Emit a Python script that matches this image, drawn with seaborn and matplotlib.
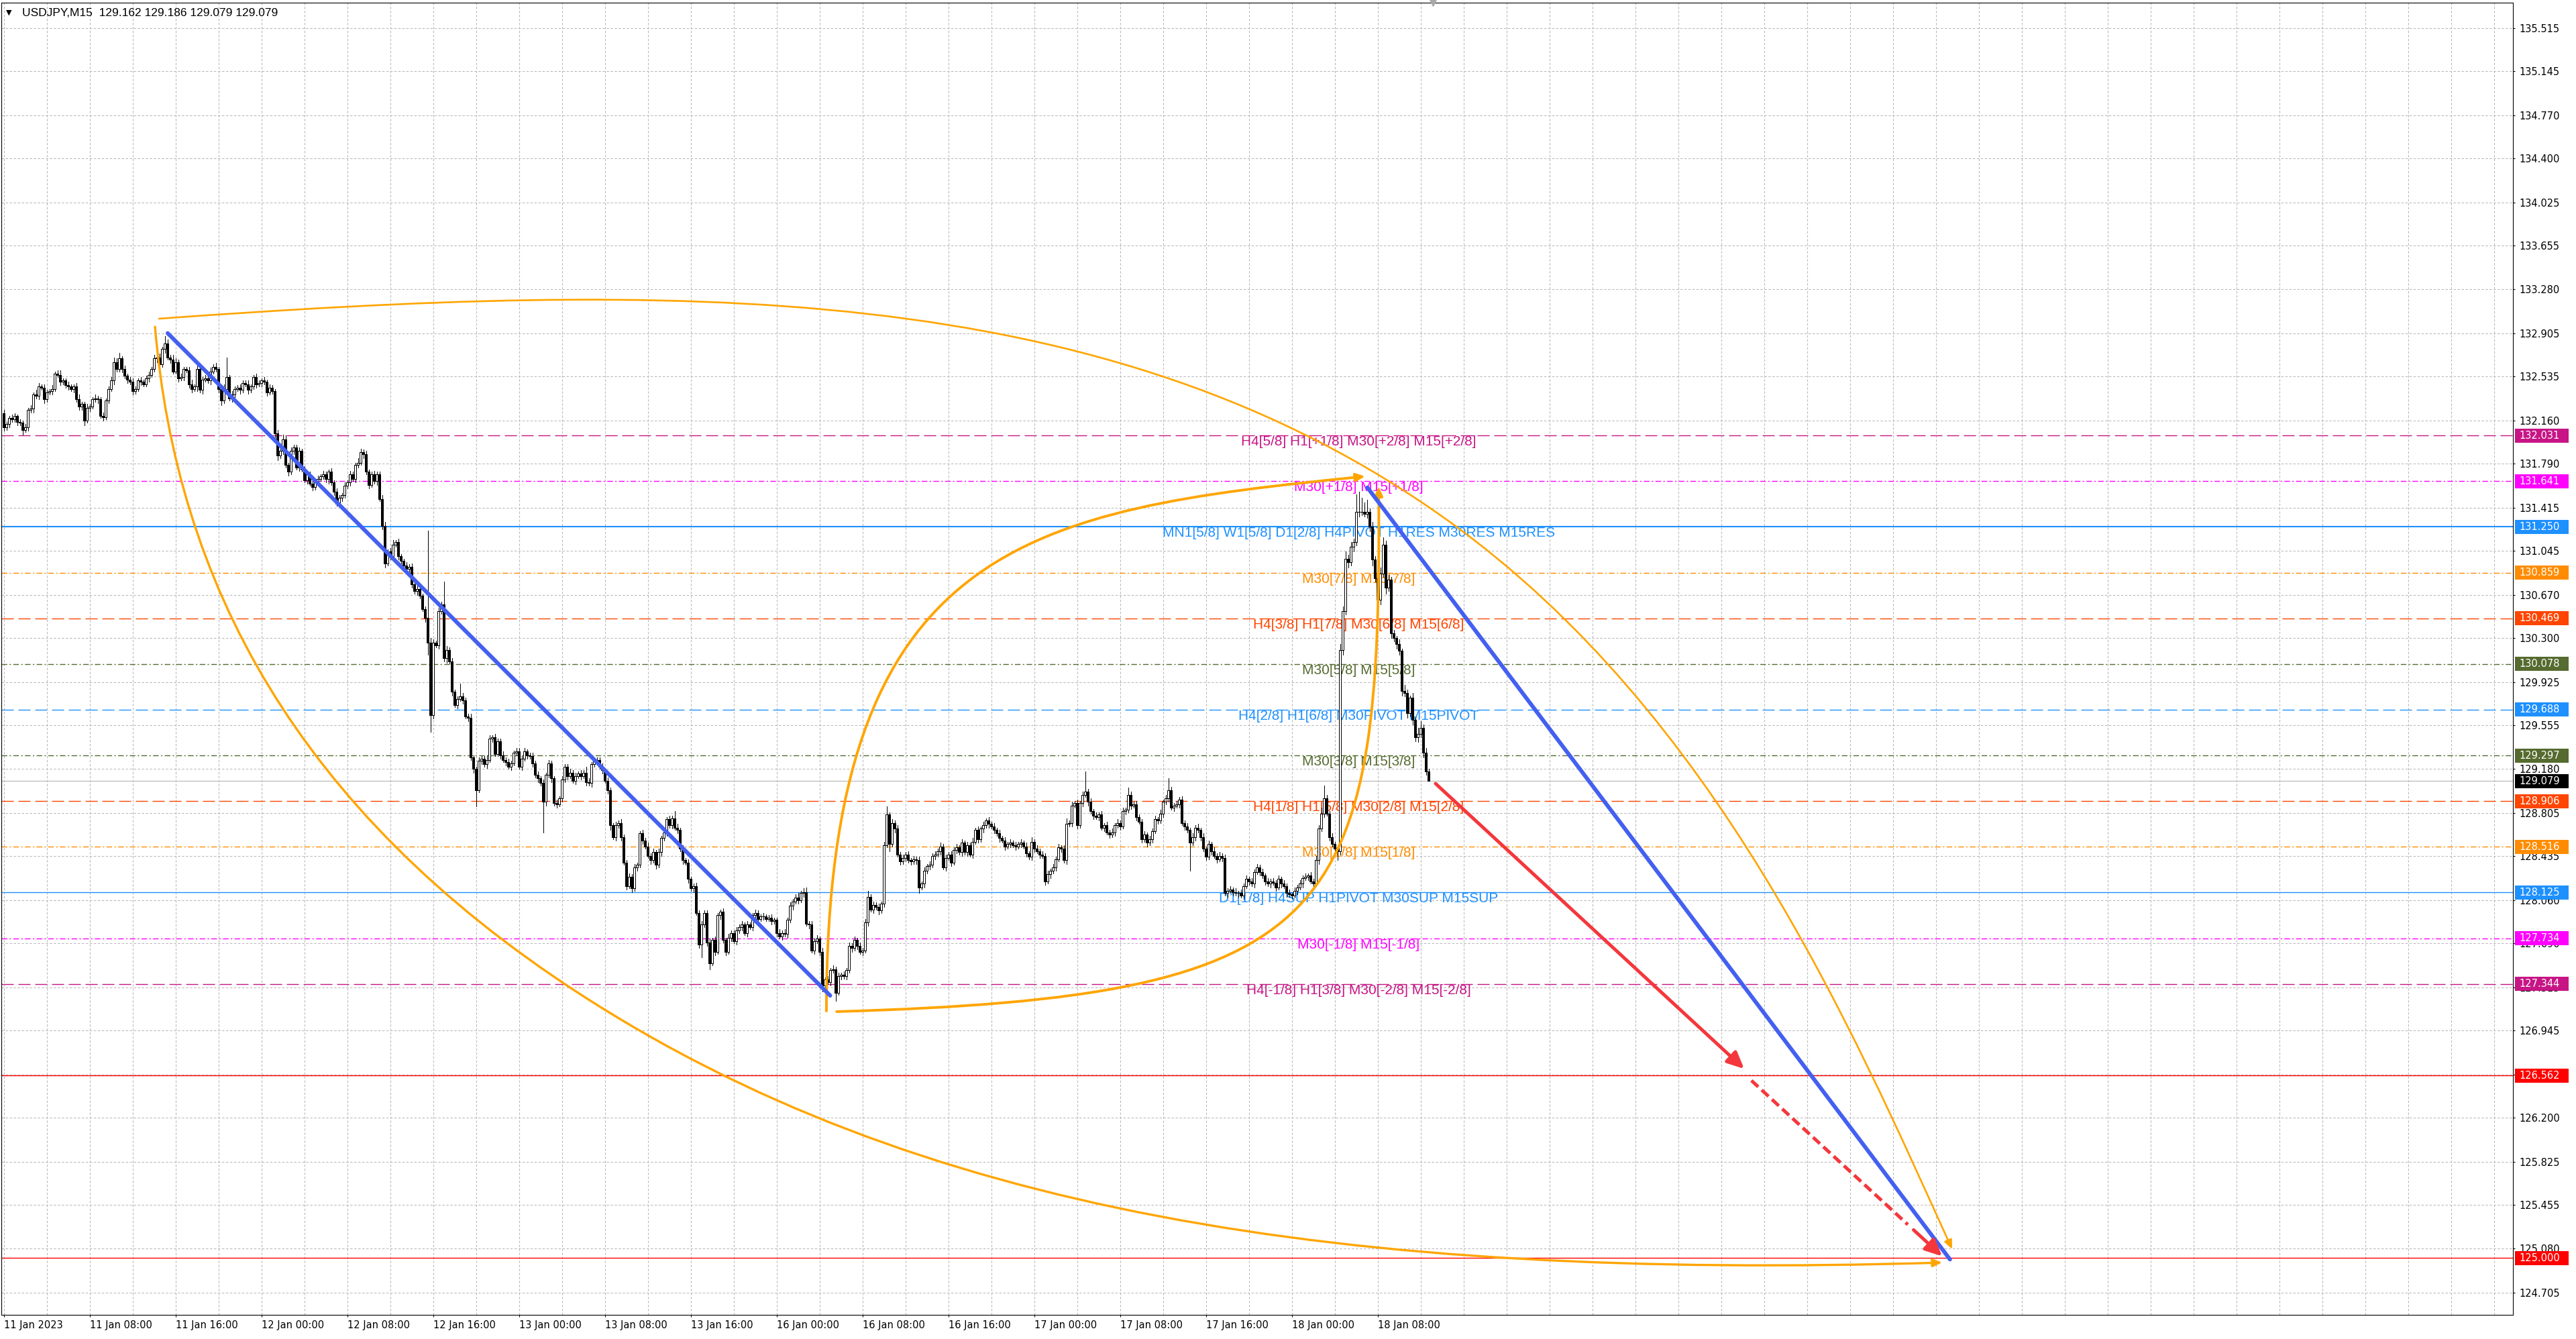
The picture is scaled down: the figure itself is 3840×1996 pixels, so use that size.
import matplotlib
matplotlib.use('Agg')
import matplotlib.pyplot as plt
from matplotlib.patches import Rectangle, FancyArrowPatch
from matplotlib.path import Path
import seaborn as sns
import numpy as np

# ---------------- data ----------------
header = "USDJPY,M15  129.162 129.186 129.079 129.079"
first_open = 132.22

close_11jan = [132.10, 132.13, 132.18, 132.17, 132.20, 132.15, 132.14, 132.08, 132.10, 132.25,
               132.26, 132.38, 132.37, 132.45, 132.44, 132.34, 132.40, 132.41, 132.43, 132.56,
               132.55, 132.49, 132.50, 132.46, 132.45, 132.43, 132.45, 132.34, 132.28, 132.30,
               132.16, 132.27, 132.28, 132.34, 132.35, 132.34, 132.20, 132.19, 132.33, 132.43,
               132.50, 132.66, 132.60, 132.69, 132.60, 132.54, 132.51, 132.49, 132.41, 132.43,
               132.50, 132.49, 132.47, 132.52, 132.55, 132.60, 132.69, 132.70, 132.64, 132.77,
               132.82, 132.70, 132.68, 132.58, 132.66, 132.52, 132.53, 132.60, 132.59, 132.47,
               132.43, 132.45, 132.60, 132.42, 132.51, 132.52, 132.50, 132.58, 132.62, 132.60,
               132.43, 132.33, 132.43, 132.53, 132.35, 132.38, 132.43, 132.44, 132.42, 132.48,
               132.47, 132.42, 132.45, 132.53, 132.47, 132.48]
close_12jan = [132.50, 132.49, 132.40, 132.44, 132.41, 132.05, 131.86, 131.90, 132.00, 131.78,
               131.72, 131.90, 131.93, 131.76, 131.90, 131.74, 131.65, 131.70, 131.62, 131.59,
               131.63, 131.66, 131.68, 131.70, 131.66, 131.72, 131.63, 131.55, 131.45, 131.50,
               131.52, 131.60, 131.63, 131.70, 131.66, 131.78, 131.80, 131.89, 131.87, 131.72,
               131.61, 131.70, 131.64, 131.70, 131.49, 131.26, 130.94, 131.04, 131.00, 131.10,
               131.12, 131.00, 130.96, 130.92, 130.89, 130.91, 130.76, 130.70, 130.72, 130.66,
               130.55, 130.47, 130.26, 129.64, 130.26, 130.24, 130.53, 130.59, 130.13, 130.20,
               130.10, 129.84, 129.73, 129.78, 129.80, 129.77, 129.63, 129.62, 129.28, 129.18,
               129.00, 129.25, 129.27, 129.22, 129.26, 129.44, 129.45, 129.31, 129.42, 129.30,
               129.26, 129.24, 129.20, 129.23, 129.32, 129.33]
close_13jan = [129.20, 129.27, 129.33, 129.30, 129.29, 129.23, 129.13, 129.10, 129.06, 128.90,
               129.13, 129.23, 129.10, 128.89, 128.88, 128.93, 129.09, 129.20, 129.12, 129.15,
               129.08, 129.12, 129.14, 129.12, 129.15, 129.07, 129.06, 129.22, 129.25, 129.26,
               129.20, 129.17, 129.08, 129.00, 128.70, 128.60, 128.70, 128.72, 128.60, 128.38,
               128.18, 128.26, 128.16, 128.34, 128.36, 128.63, 128.57, 128.52, 128.44, 128.40,
               128.47, 128.36, 128.47, 128.59, 128.64, 128.75, 128.70, 128.76, 128.68, 128.66,
               128.50, 128.40, 128.38, 128.24, 128.16, 128.18, 127.95, 127.68, 127.85, 127.95,
               127.70, 127.52, 127.72, 127.62, 127.93, 127.96, 127.72, 127.62, 127.74, 127.78,
               127.71, 127.80, 127.83, 127.85, 127.78, 127.85, 127.83, 127.93, 127.95, 127.90,
               127.92, 127.92, 127.90, 127.91, 127.88, 127.89]
close_16jan = [127.78, 127.75, 127.78, 127.77, 127.89, 128.01, 128.05, 128.08, 128.06, 128.12,
               128.13, 127.86, 127.85, 127.63, 127.71, 127.73, 127.62, 127.33, 127.38, 127.36,
               127.46, 127.47, 127.27, 127.41, 127.42, 127.41, 127.46, 127.67, 127.65, 127.72,
               127.67, 127.62, 127.63, 127.87, 128.09, 127.98, 128.02, 128.00, 127.97, 128.03,
               128.53, 128.79, 128.54, 128.72, 128.67, 128.45, 128.39, 128.42, 128.45, 128.40,
               128.39, 128.41, 128.40, 128.17, 128.20, 128.31, 128.35, 128.36, 128.44, 128.45,
               128.48, 128.52, 128.34, 128.42, 128.45, 128.38, 128.49, 128.51, 128.47, 128.55,
               128.47, 128.53, 128.45, 128.56, 128.66, 128.58, 128.67, 128.70, 128.74, 128.71,
               128.69, 128.66, 128.63, 128.59, 128.57, 128.52, 128.54, 128.55, 128.53, 128.52,
               128.54, 128.55, 128.52, 128.46, 128.43, 128.56]
close_17jan = [128.50, 128.48, 128.45, 128.44, 128.22, 128.28, 128.31, 128.34, 128.41, 128.51,
               128.50, 128.40, 128.71, 128.72, 128.87, 128.89, 128.70, 128.89, 128.96, 128.99,
               128.90, 128.82, 128.78, 128.77, 128.79, 128.68, 128.70, 128.64, 128.62, 128.64,
               128.70, 128.72, 128.69, 128.82, 128.83, 128.96, 128.87, 128.88, 128.77, 128.73,
               128.58, 128.62, 128.55, 128.58, 128.65, 128.75, 128.74, 128.80, 128.90, 128.93,
               129.00, 128.85, 128.87, 128.88, 128.92, 128.72, 128.69, 128.66, 128.55, 128.60,
               128.68, 128.66, 128.60, 128.50, 128.43, 128.54, 128.48, 128.44, 128.41, 128.44,
               128.42, 128.12, 128.14, 128.15, 128.13, 128.12, 128.12, 128.10, 128.18, 128.24,
               128.22, 128.20, 128.30, 128.34, 128.30, 128.27, 128.22, 128.20, 128.22, 128.21,
               128.17, 128.24, 128.20, 128.18, 128.12, 128.11]
close_18jan = [128.10, 128.14, 128.17, 128.20, 128.25, 128.26, 128.27, 128.22, 128.20, 128.40,
               128.67, 128.80, 128.93, 128.80, 128.60, 128.54, 128.50, 128.48, 130.20, 130.53,
               130.98, 130.95, 131.08, 131.12, 131.38, 131.38, 131.38, 131.36, 131.38, 131.25,
               130.97, 130.81, 130.63, 130.85, 131.10, 130.73, 130.80, 130.34, 130.30, 130.25,
               130.19, 129.85, 129.83, 129.66, 129.79, 129.60, 129.45, 129.48, 129.53, 129.32,
               129.162, 129.079]

# wick lengths above / below the body, in 0.01 JPY
up_11jan = [3, 2, 2, 3, 2, 1, 2, 2, 3, 2, 3, 2, 4, 3, 2, 3, 2, 2, 3, 2, 3, 4, 2, 2, 3, 2, 2, 3, 4, 2,
            2, 3, 2, 2, 3, 2, 2, 3, 2, 2, 3, 4, 3, 5, 2, 3, 2, 2, 3, 2, 2, 3, 2, 2, 3, 2, 3, 2, 3, 2,
            6, 3, 2, 4, 3, 2, 3, 2, 2, 3, 4, 2, 3, 2, 2, 3, 2, 3, 2, 3, 2, 3, 4, 17, 2, 3, 2, 2, 3, 2,
            2, 3, 2, 2, 3, 2]
dn_11jan = [3, 2, 3, 2, 2, 3, 2, 4, 2, 3, 2, 3, 2, 3, 2, 3, 2, 2, 3, 2, 2, 3, 2, 2, 3, 2, 3, 2, 3, 3,
            4, 2, 3, 2, 2, 3, 2, 3, 2, 2, 2, 3, 2, 2, 3, 2, 3, 2, 3, 2, 2, 3, 2, 2, 3, 2, 2, 3, 2, 2,
            3, 2, 3, 2, 2, 3, 2, 3, 2, 3, 3, 2, 4, 2, 3, 2, 2, 3, 2, 2, 3, 4, 2, 3, 2, 3, 2, 2, 3, 2,
            2, 3, 2, 2, 3, 2]
up_12jan = [2, 3, 2, 3, 2, 2, 3, 2, 4, 3, 2, 3, 2, 2, 3, 2, 3, 2, 2, 3, 2, 3, 2, 3, 2, 2, 3, 2, 3, 2,
            2, 3, 2, 3, 2, 2, 4, 3, 2, 3, 2, 2, 3, 2, 2, 3, 3, 2, 3, 4, 2, 3, 2, 2, 3, 2, 3, 2, 3, 2,
            2, 2, 75, 4, 3, 2, 3, 2, 19, 3, 2, 3, 2, 2, 11, 3, 2, 2, 3, 2, 2, 3, 2, 2, 4, 3, 2, 3, 2, 2,
            3, 2, 3, 2, 2, 3]
dn_12jan = [3, 2, 3, 2, 2, 5, 4, 2, 3, 2, 3, 2, 3, 2, 3, 2, 2, 3, 2, 3, 2, 3, 2, 2, 3, 4, 2, 3, 2, 2,
            3, 2, 2, 3, 2, 3, 2, 2, 3, 2, 3, 2, 2, 3, 2, 3, 4, 2, 3, 2, 2, 3, 2, 3, 2, 2, 3, 2, 3, 2,
            2, 3, 10, 14, 3, 2, 3, 2, 3, 4, 2, 3, 2, 3, 2, 3, 2, 3, 2, 3, 14, 2, 3, 2, 3, 2, 3, 2, 2, 3,
            2, 3, 2, 3, 2, 2]
up_13jan = [3, 2, 3, 2, 2, 3, 2, 3, 2, 3, 2, 3, 2, 2, 3, 2, 3, 2, 2, 3, 2, 3, 2, 3, 2, 5, 3, 2, 3, 2,
            2, 3, 2, 3, 2, 2, 3, 2, 3, 2, 2, 3, 2, 3, 2, 2, 3, 2, 3, 2, 3, 2, 3, 2, 3, 2, 3, 2, 6, 3,
            2, 3, 2, 3, 2, 2, 3, 2, 3, 2, 2, 3, 2, 3, 2, 2, 3, 2, 3, 2, 2, 3, 2, 3, 2, 3, 2, 2, 3, 2,
            2, 3, 2, 2, 3, 2]
dn_13jan = [2, 3, 2, 3, 2, 3, 2, 3, 2, 26, 3, 2, 3, 2, 3, 2, 3, 2, 3, 2, 2, 3, 2, 3, 2, 3, 2, 3, 2, 3,
            2, 3, 2, 3, 4, 2, 3, 2, 3, 2, 3, 2, 3, 2, 3, 2, 3, 2, 2, 3, 2, 3, 2, 3, 2, 3, 2, 3, 2, 3,
            2, 3, 2, 3, 2, 3, 2, 3, 11, 2, 3, 5, 2, 3, 2, 3, 2, 3, 2, 3, 2, 3, 2, 3, 2, 3, 2, 3, 2, 3,
            2, 3, 2, 2, 3, 2]
up_16jan = [2, 3, 2, 3, 2, 3, 2, 3, 4, 2, 3, 4, 2, 3, 2, 3, 2, 3, 2, 3, 2, 3, 2, 3, 2, 3, 2, 3, 2, 3,
            2, 3, 2, 3, 5, 2, 3, 2, 3, 2, 3, 7, 2, 3, 2, 3, 2, 3, 2, 3, 2, 3, 2, 3, 2, 3, 2, 3, 2, 3,
            2, 3, 2, 3, 2, 3, 2, 3, 2, 3, 2, 3, 2, 3, 2, 3, 2, 3, 2, 3, 2, 3, 2, 3, 2, 3, 2, 3, 2, 3,
            2, 3, 2, 3, 2, 4]
dn_16jan = [3, 2, 3, 2, 3, 2, 3, 2, 3, 2, 3, 2, 3, 2, 3, 2, 3, 5, 3, 2, 3, 2, 7, 2, 3, 2, 3, 2, 3, 2,
            3, 2, 3, 2, 3, 2, 3, 2, 3, 2, 3, 2, 6, 2, 3, 2, 3, 2, 3, 2, 3, 2, 3, 5, 2, 3, 2, 3, 2, 3,
            2, 3, 2, 3, 2, 3, 2, 3, 2, 3, 2, 3, 2, 3, 2, 3, 2, 3, 2, 3, 2, 3, 2, 3, 2, 3, 2, 3, 2, 3,
            2, 3, 2, 3, 2, 3]
up_17jan = [2, 3, 2, 3, 2, 3, 2, 3, 2, 3, 2, 3, 5, 2, 3, 2, 3, 2, 3, 17, 2, 3, 2, 3, 2, 3, 2, 3, 2, 3,
            2, 3, 2, 3, 2, 6, 3, 2, 3, 2, 2, 3, 2, 3, 2, 3, 2, 3, 2, 3, 10, 3, 2, 3, 2, 3, 2, 3, 2, 3,
            2, 3, 2, 3, 2, 3, 2, 3, 2, 3, 2, 3, 2, 3, 2, 3, 2, 3, 2, 3, 2, 3, 2, 3, 2, 3, 2, 3, 2, 3,
            2, 3, 2, 3, 2, 3]
dn_17jan = [3, 2, 3, 2, 3, 2, 3, 2, 3, 2, 3, 2, 3, 2, 3, 2, 3, 2, 3, 2, 3, 2, 3, 2, 3, 2, 3, 2, 3, 2,
            3, 2, 3, 2, 3, 2, 3, 2, 3, 2, 3, 2, 3, 2, 3, 2, 3, 2, 3, 2, 3, 2, 3, 2, 3, 2, 3, 2, 24, 2,
            3, 2, 3, 2, 3, 2, 3, 2, 3, 2, 3, 2, 3, 2, 3, 2, 3, 2, 3, 2, 3, 2, 3, 2, 3, 2, 3, 2, 3, 2,
            3, 2, 3, 2, 3, 2]
up_18jan = [2, 3, 2, 3, 2, 3, 2, 3, 2, 4, 3, 5, 11, 3, 2, 3, 2, 3, 5, 4, 6, 3, 4, 3, 15, 17, 12, 8, 10, 3,
            4, 3, 2, 5, 6, 3, 4, 2, 3, 2, 4, 2, 5, 3, 2, 4, 3, 5, 6, 3, 4, 2]
dn_18jan = [3, 2, 3, 2, 3, 2, 3, 2, 3, 2, 3, 2, 3, 2, 3, 2, 3, 8, 3, 4, 3, 5, 3, 4, 3, 4, 3, 2, 3, 4,
            5, 3, 8, 4, 3, 5, 3, 4, 3, 4, 3, 4, 3, 4, 3, 4, 3, 4, 3, 4, 3, 0]

x_labels = ['11 Jan 2023', '11 Jan 08:00', '11 Jan 16:00', '12 Jan 00:00', '12 Jan 08:00',
            '12 Jan 16:00', '13 Jan 00:00', '13 Jan 08:00', '13 Jan 16:00', '16 Jan 00:00',
            '16 Jan 08:00', '16 Jan 16:00', '17 Jan 00:00', '17 Jan 08:00', '17 Jan 16:00',
            '18 Jan 00:00', '18 Jan 08:00']
bars_per_label = 32
bars_per_grid = 16

y_ticks = [135.515, 135.145, 134.770, 134.400, 134.025, 133.655, 133.280, 132.905, 132.535,
           132.160, 131.790, 131.415, 131.045, 130.670, 130.300, 129.925, 129.555, 129.180,
           128.805, 128.435, 128.060, 127.690, 127.315, 126.945, 126.570, 126.200, 125.825,
           125.455, 125.080, 124.705]

level_prices = [132.031, 131.641, 131.250, 130.859, 130.469, 130.078, 129.688, 129.297,
                128.906, 128.516, 128.125, 127.734, 127.344, 126.562, 125.000]
level_colors = ['#C71585', '#FF00FF', '#1E90FF', '#FF8C00', '#FF4500', '#556B2F', '#1E90FF',
                '#556B2F', '#FF4500', '#FF8C00', '#1E90FF', '#FF00FF', '#C71585', '#FF0000', '#FF0000']
level_styles = ['dash', 'dashdot', 'solid', 'dashdot', 'dash', 'dashdot', 'dash', 'dashdot',
                'dash', 'dashdot', 'solid', 'dashdot', 'dash', 'solid', 'solid']
level_texts = ['H4[5/8] H1[+1/8] M30[+2/8] M15[+2/8]',
               'M30[+1/8] M15[+1/8]',
               'MN1[5/8] W1[5/8] D1[2/8] H4PIVOT H1RES M30RES M15RES',
               'M30[7/8] M15[7/8]',
               'H4[3/8] H1[7/8] M30[6/8] M15[6/8]',
               'M30[5/8] M15[5/8]',
               'H4[2/8] H1[6/8] M30PIVOT M15PIVOT',
               'M30[3/8] M15[3/8]',
               'H4[1/8] H1[5/8] M30[2/8] M15[2/8]',
               'M30[1/8] M15[1/8]',
               'D1[1/8] H4SUP H1PIVOT M30SUP M15SUP',
               'M30[-1/8] M15[-1/8]',
               'H4[-1/8] H1[3/8] M30[-2/8] M15[-2/8]',
               '', '']
level_text_bar = 505
last_price = 129.079

# drawings: (bar, price)
blue_trends = [[(61.1, 132.906), (308.0, 127.244)],
               [(508.2, 131.587), (725.3, 124.989)]]
red_arrow = [(533.6, 129.056), (648.6, 126.618)]
red_dashed_arrow = [(651.3, 126.518), (722.4, 125.016)]
arc_top = [(57.9, 133.030), (248.6, 133.345), (411.1, 133.402), (538.6, 131.298),
           (638.6, 129.647), (688.6, 126.969), (726.1, 125.077)]
arc_bottom = [(56.4, 132.961), (64.4, 130.782), (109.1, 128.833), (214.1, 127.267),
              (339.1, 125.404), (497.4, 124.807), (722.4, 124.962)]
arc_rise = [(306.6, 127.112), (306.6, 131.126), (382.4, 131.396), (507.4, 131.682)]
arc_base = [(310.4, 127.107), (497.9, 127.233), (513.6, 127.869), (512.4, 131.596)]

# ---------------- style ----------------
sns.set_theme(style='white')
plt.rcParams['font.family'] = ['DejaVu Sans']
plt.rcParams['lines.scale_dashes'] = False

W, H = 3840, 1996
px_left, px_right, px_top, px_bottom = 2, 3746, 4, 1960
y_lo, y_hi = 124.515, 135.731
x_lo, x_hi = -0.875, 935.1

ORANGE = '#FFA500'
BLUE = '#4460F0'
RED = '#F4373C'
GRID = '#B8B8B8'
dash_styles = {'solid': '-', 'dash': (0, (13, 5)), 'dashdot': (0, (6, 2.5, 1.5, 2.5))}

fig = plt.figure(figsize=(W / 100, H / 100), dpi=100, facecolor='white')
ax = fig.add_axes([px_left / W, 1 - px_bottom / H, (px_right - px_left) / W, (px_bottom - px_top) / H])
ax.set_facecolor('white')
ax.set_xlim(x_lo, x_hi)
ax.set_ylim(y_lo, y_hi)
ax_w = px_right - px_left
ax_h = px_bottom - px_top

# grid
ax.hlines(y_ticks, 0, 1, transform=ax.get_yaxis_transform(), colors=GRID, lw=0.75,
          linestyles=[(0, (2.5, 1.8))], zorder=0)
ax.vlines(np.arange(0, x_hi, bars_per_grid), 0, 1, transform=ax.get_xaxis_transform(),
          colors=GRID, lw=0.75, linestyles=[(0, (2.5, 1.8))], zorder=0)

# levels + labels
for p, c, s, t in zip(level_prices, level_colors, level_styles, level_texts):
    lw = 1.5 if (s == 'solid' and c == '#1E90FF' and p > 130) else 1.0
    ax.axhline(p, color=c, lw=lw, linestyle=dash_styles[s], zorder=1)
    if t:
        ax.text(level_text_bar, p, t, color=c, fontsize=15, family=['Liberation Sans', 'DejaVu Sans'],
                ha='center', va='top', zorder=1.5)
ax.axhline(last_price, color='#C0C0C0', lw=1.0, zorder=1)

# candles
closes = np.array(close_11jan + close_12jan + close_13jan + close_16jan + close_17jan + close_18jan)
up = np.array(up_11jan + up_12jan + up_13jan + up_16jan + up_17jan + up_18jan) / 100
dn = np.array(dn_11jan + dn_12jan + dn_13jan + dn_16jan + dn_17jan + dn_18jan) / 100
opens = np.r_[first_open, closes[:-1]]
highs = np.maximum(opens, closes) + up
lows = np.minimum(opens, closes) - dn
bars = np.arange(len(closes))
bull = closes >= opens
ax.vlines(bars, lows, highs, color='black', lw=0.7, zorder=3, antialiased=False)
ax.bar(bars, np.abs(closes - opens), bottom=np.minimum(opens, closes), width=0.78,
       color=np.where(bull, 'white', 'black'), edgecolor='black', linewidth=0.6,
       zorder=4, antialiased=False)

# orange arcs
def bezier(points):
    codes = [Path.MOVETO] + [Path.CURVE4] * (len(points) - 1)
    return Path(points, codes)

for pts, lw in [(arc_top, 1.9), (arc_bottom, 2.4), (arc_rise, 2.8), (arc_base, 2.8)]:
    ax.add_patch(FancyArrowPatch(path=bezier(pts), arrowstyle='-|>,head_length=8,head_width=3.5',
                                 color=ORANGE, lw=lw, transform=ax.transData, zorder=6))

# blue trend lines
for (x0, y0), (x1, y1) in blue_trends:
    sns.lineplot(x=[x0, x1], y=[y0, y1], ax=ax, color=BLUE, lw=4.3,
                 solid_capstyle='round', zorder=7)

# red projection arrows
(rx0, ry0), (rx1, ry1) = red_arrow
ax.add_patch(FancyArrowPatch((rx0, ry0), (rx1, ry1), arrowstyle='-|>,head_length=15,head_width=7',
                             color=RED, lw=3.6, shrinkA=0, shrinkB=0, capstyle='round', zorder=7))
(dx0, dy0), (dx1, dy1) = red_dashed_arrow
k = 0.82
ax.plot([dx0, dx0 + k * (dx1 - dx0)], [dy0, dy0 + k * (dy1 - dy0)], color=RED, lw=3.6,
        dashes=(10, 5), zorder=7)
ax.add_patch(FancyArrowPatch((dx0 + 0.85 * (dx1 - dx0), dy0 + 0.85 * (dy1 - dy0)), (dx1, dy1),
                             arrowstyle='-|>,head_length=15,head_width=7', color=RED, lw=3.6,
                             shrinkA=0, shrinkB=0, zorder=7))

# axes cosmetics
for sp in ax.spines.values():
    sp.set_color('black')
    sp.set_linewidth(0.8)
    sp.set_visible(True)
ax.yaxis.tick_right()
ax.set_yticks(y_ticks)
ax.set_yticklabels([f'{v:.3f}' for v in y_ticks])
ax.tick_params(axis='y', which='both', right=True, left=False, length=2.5, width=0.8,
               direction='out', pad=4.3, labelsize=10.5, colors='black')
ax.set_xticks(np.arange(len(x_labels)) * bars_per_label)
ax.set_xticklabels(x_labels, ha='left')
ax.tick_params(axis='x', bottom=True, length=2.5, width=0.8, direction='out', pad=3.5,
               labelsize=10.5, colors='black')
ax.grid(False)
ax.set_xlabel('')
ax.set_ylabel('')

# price tags on the right scale
box_h = 21 / ax_h * (y_hi - y_lo)
tag_prices = level_prices + [last_price]
tag_colors = level_colors + ['black']
for p, c in zip(tag_prices, tag_colors):
    ax.add_patch(Rectangle((1 + 3 / ax_w, p - box_h / 2), 80 / ax_w, box_h,
                           transform=ax.get_yaxis_transform(), facecolor=c, edgecolor='none',
                           clip_on=False, zorder=10))
    ax.text(1 + 9 / ax_w, p, f'{p:.3f}', transform=ax.get_yaxis_transform(), color='white',
            fontsize=10.5, ha='left', va='center', clip_on=False, zorder=11)

# header and shift marker
fig.text(9 / W, 1 - 19 / H, '\u25BC', fontsize=8, family='DejaVu Sans', va='center', color='black')
fig.text(33 / W, 1 - 19 / H, header, fontsize=12.5, family=['Liberation Sans', 'DejaVu Sans'],
         va='center', color='black')
ax.plot([len(closes) + 0.5], [1.0], marker='v', ms=7, color='#A9A9A9',
        transform=ax.get_xaxis_transform(), clip_on=False, zorder=12)

fig.savefig('out.png', dpi=100, facecolor='white')
